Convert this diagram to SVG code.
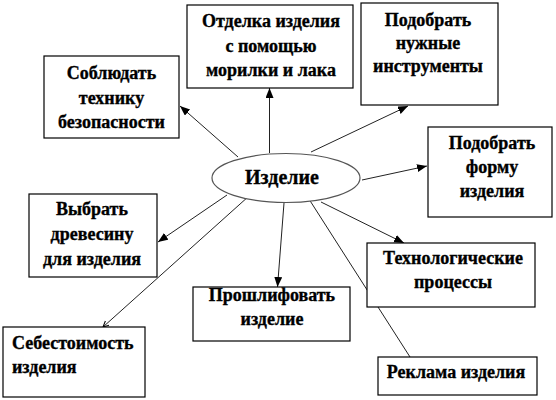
<svg xmlns="http://www.w3.org/2000/svg" width="556" height="400" viewBox="0 0 556 400">
<defs>
<style>
.box{fill:#fff;stroke:#000;stroke-width:1.2}
.t{font-family:"Liberation Serif","Times New Roman",serif;font-size:18px;font-weight:bold;fill:#000;stroke:#000;stroke-width:0.35;text-anchor:middle}
.big{font-size:20px}
.tl{text-anchor:start}
.c{stroke:#222;stroke-width:1;fill:none}
.a{marker-end:url(#ah)}
.s{marker-end:url(#sm)}
</style>
<marker id="ah" markerUnits="userSpaceOnUse" markerWidth="12" markerHeight="10" refX="10" refY="4" orient="auto">
<path d="M0,0 L10,4 L0,8 Z" fill="#000"/>
</marker>
<marker id="sm" markerUnits="userSpaceOnUse" markerWidth="8" markerHeight="8" refX="6" refY="3" orient="auto">
<path d="M0,0 L6,3 L0,6" fill="none" stroke="#000" stroke-width="1"/>
</marker>
</defs>
<rect width="556" height="400" fill="#fff"/>
<g id="connectors">
<line class="c a" x1="238" y1="157" x2="180" y2="106"/>
<line class="c a" x1="269.5" y1="153" x2="269.5" y2="88"/>
<line class="c a" x1="311" y1="152" x2="408" y2="106"/>
<line class="c a" x1="362" y1="180" x2="427" y2="166"/>
<line class="c a" x1="227" y1="195" x2="158" y2="242"/>
<line class="c s" x1="249" y1="196" x2="103" y2="327"/>
<line class="c a" x1="284" y1="203" x2="277.5" y2="287"/>
<line class="c a" x1="321" y1="202" x2="404" y2="243"/>
<line class="c" x1="307" y1="196" x2="410" y2="357"/>
</g>
<g id="center">
<ellipse cx="286" cy="178" rx="74" ry="24.5" fill="#fff" stroke="#555" stroke-width="1.2"/>
<text class="t big" x="282" y="184">Изделие</text>
</g>
<g id="n1">
<rect class="box" x="44" y="56" width="135" height="82"/>
<text class="t" x="111.5" y="79">Соблюдать</text>
<text class="t" x="111.5" y="103.5">технику</text>
<text class="t" x="111.5" y="128">безопасности</text>
</g>
<g id="n2">
<rect class="box" x="187" y="5" width="166" height="83"/>
<text class="t" x="271" y="27">Отделка изделия</text>
<text class="t" x="271" y="51.5">с помощью</text>
<text class="t" x="271" y="76">морилки и лака</text>
</g>
<g id="n3">
<rect class="box" x="361" y="3" width="137" height="102"/>
<text class="t" x="428" y="26">Подобрать</text>
<text class="t" x="428" y="48.5">нужные</text>
<text class="t" x="428" y="72">инструменты</text>
</g>
<g id="n4">
<rect class="box" x="428" y="127" width="124" height="90"/>
<text class="t" x="492" y="149">Подобрать</text>
<text class="t" x="492" y="173">форму</text>
<text class="t" x="492" y="197">изделия</text>
</g>
<g id="n5">
<rect class="box" x="29" y="194" width="128" height="83"/>
<text class="t" x="92" y="215">Выбрать</text>
<text class="t" x="92" y="240">древесину</text>
<text class="t" x="92" y="265">для изделия</text>
</g>
<g id="n6">
<rect class="box" x="193" y="287" width="157" height="54"/>
<text class="t" x="272" y="301">Прошлифовать</text>
<text class="t" x="272" y="324.5">изделие</text>
</g>
<g id="n7">
<rect class="box" x="3" y="327" width="142" height="70"/>
<text class="t tl" x="12" y="349">Себестоимость</text>
<text class="t tl" x="12" y="373">изделия</text>
</g>
<g id="n8">
<rect class="box" x="367" y="243" width="168" height="64"/>
<text class="t" x="453" y="263.5">Технологические</text>
<text class="t" x="453" y="288">процессы</text>
</g>
<g id="n9">
<rect class="box" x="378" y="357" width="159" height="38"/>
<text class="t" x="456" y="378">Реклама изделия</text>
</g>
</svg>
